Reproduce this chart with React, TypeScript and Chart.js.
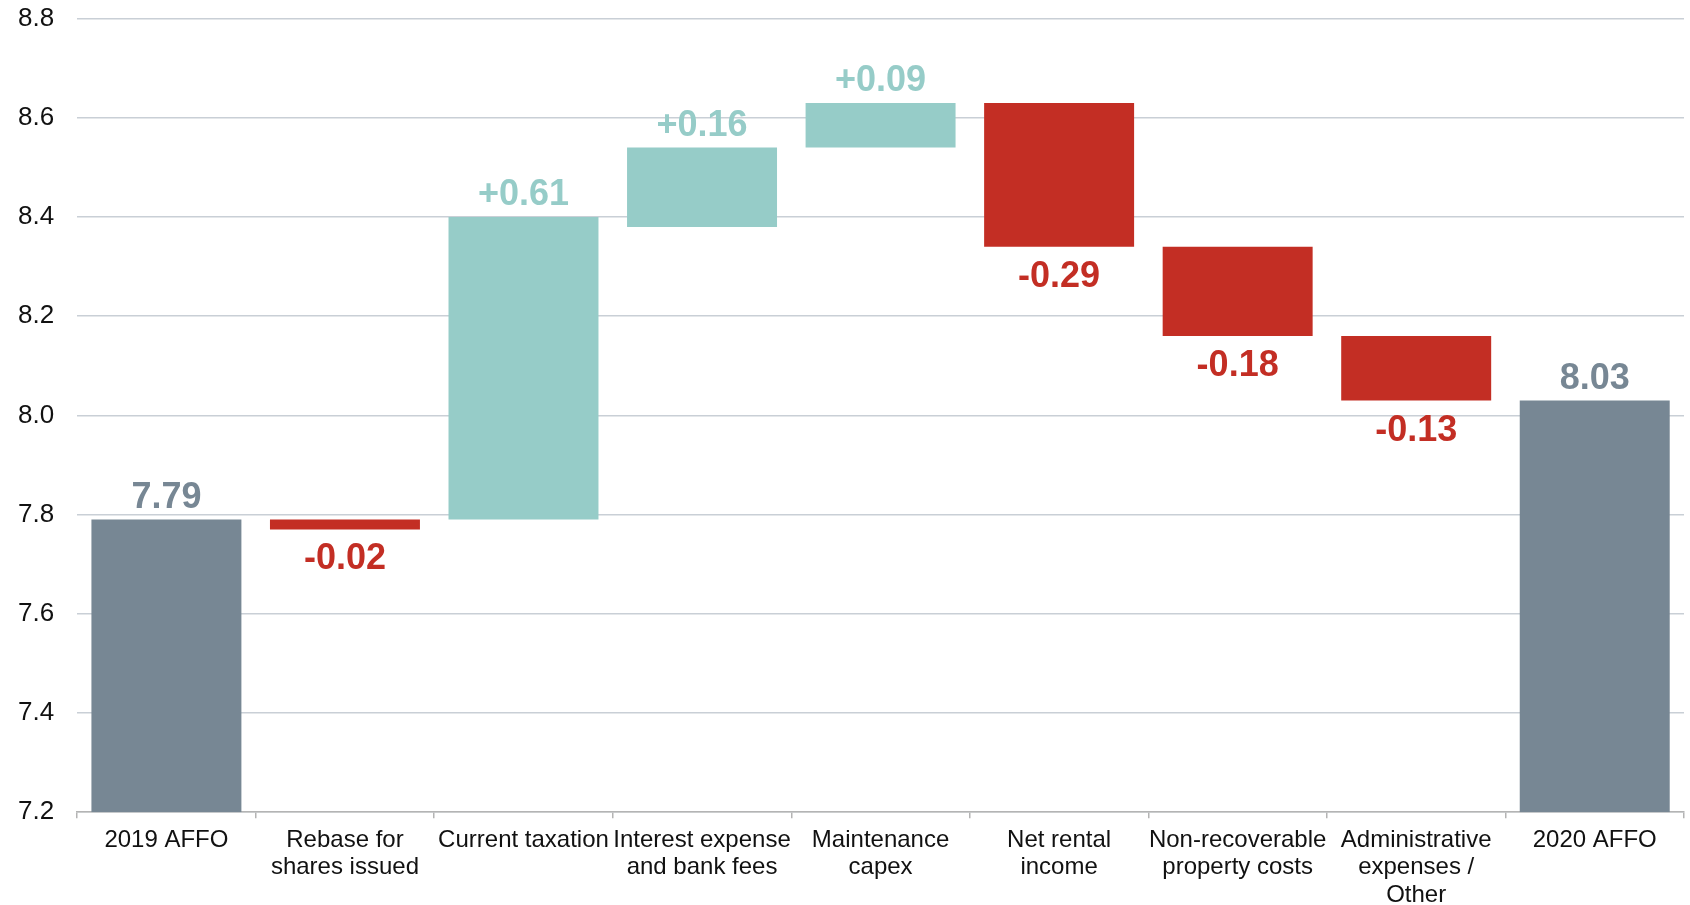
import React, { useEffect, useRef } from "react";
import { Chart, registerables } from "chart.js";

Chart.register(...registerables);

const categories: (string | string[])[] = [
  "2019 AFFO",
  ["Rebase for", "shares issued"],
  "Current taxation",
  ["Interest expense", "and bank fees"],
  ["Maintenance", "capex"],
  ["Net rental", "income"],
  ["Non-recoverable", "property costs"],
  ["Administrative", "expenses /", "Other"],
  "2020 AFFO",
];

const barStart = [7.2, 7.79, 7.79, 8.38, 8.54, 8.63, 8.34, 8.16, 7.2];
const barEnd = [7.79, 7.77, 8.4, 8.54, 8.63, 8.34, 8.16, 8.03, 8.03];
const valueLabels = ["7.79", "-0.02", "+0.61", "+0.16", "+0.09", "-0.29", "-0.18", "-0.13", "8.03"];
const kinds = ["total", "neg", "pos", "pos", "pos", "neg", "neg", "neg", "total"];

const yTicks = { min: 7.2, max: 8.8, step: 0.2 };

const COLORS: Record<string, string> = {
  total: "#778794",
  pos: "#96ccc8",
  neg: "#c32e24",
};

const FONT = "'Liberation Sans', Arial, Helvetica, sans-serif";

const labelPlugin = {
  id: "waterfallLabels",
  afterDatasetsDraw(chart: any) {
    const ctx = chart.ctx;
    const meta = chart.getDatasetMeta(0);
    const y = chart.scales.y;
    ctx.save();
    ctx.font = `bold 36px ${FONT}`;
    ctx.textAlign = "center";
    ctx.textBaseline = "alphabetic";
    meta.data.forEach((bar: any, i: number) => {
      const kind = kinds[i];
      ctx.fillStyle = COLORS[kind];
      const hi = Math.max(barStart[i], barEnd[i]);
      const lo = Math.min(barStart[i], barEnd[i]);
      if (kind === "neg") {
        const py = y.getPixelForValue(lo);
        ctx.fillText(valueLabels[i], bar.x, py + 40);
      } else {
        const py = y.getPixelForValue(hi);
        ctx.fillText(valueLabels[i], bar.x, py - 12);
      }
    });
    ctx.restore();
  },
};

export default function App() {
  const ref = useRef<HTMLCanvasElement | null>(null);

  useEffect(() => {
    if (!ref.current) return;
    const chart = new Chart(ref.current, {
      type: "bar",
      data: {
        labels: categories,
        datasets: [
          {
            data: barStart.map((s, i) => [s, barEnd[i]]) as any,
            backgroundColor: kinds.map((k) => COLORS[k]),
            borderWidth: 0,
            borderSkipped: false,
            barPercentage: 0.84,
            categoryPercentage: 1,
          },
        ],
      },
      options: {
        responsive: false,
        animation: false,
        layout: { padding: { left: -5, right: 6, top: -16, bottom: -12 } },
        plugins: {
          legend: { display: false },
          tooltip: { enabled: false },
        },
        scales: {
          x: {
            offset: true,
            grid: {
              display: true,
              offset: true,
              drawOnChartArea: false,
              drawTicks: true,
              tickLength: 6,
              color: "#b4b4b4",
              lineWidth: 1.5,
            },
            border: { display: true, color: "#b4b4b4", width: 1.5 },
            ticks: {
              autoSkip: false,
              maxRotation: 0,
              minRotation: 0,
              padding: 8,
              color: "#111111",
              font: { family: FONT, size: 24, lineHeight: 1.15 },
            },
          },
          y: {
            min: yTicks.min,
            max: yTicks.max,
            grid: {
              color: "#c9cfd6",
              lineWidth: 1.5,
              drawTicks: false,
            },
            border: { display: false },
            ticks: {
              stepSize: yTicks.step,
              padding: 23,
              color: "#111111",
              font: { family: FONT, size: 26 },
              callback: (v: any) => Number(v).toFixed(1),
            },
          },
        },
      },
      plugins: [labelPlugin],
    });
    return () => chart.destroy();
  }, []);

  return (
    <div style={{ position: "absolute", left: 0, top: 0, width: 1690, height: 905, overflow: "hidden", background: "#fff" }}>
      <canvas ref={ref} width={1690} height={925} style={{ position: "absolute", left: 0, top: -20 }} />
    </div>
  );
}
